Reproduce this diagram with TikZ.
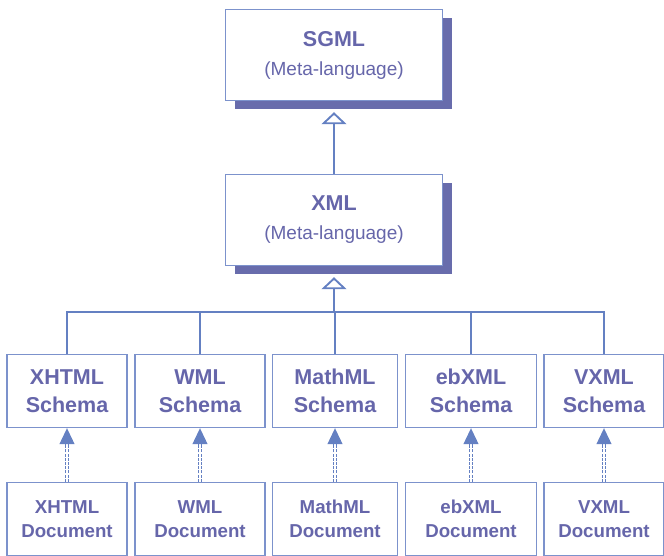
\documentclass[tikz,border=0pt]{standalone}
\usepackage{fontspec}
\setmainfont{Liberation Sans}
\usetikzlibrary{shapes.geometric, arrows.meta, shadows}
\definecolor{boxline}{RGB}{124,146,204}
\definecolor{textcol}{RGB}{102,102,170}
\definecolor{shadowcol}{RGB}{104,108,172}
\definecolor{arrowcol}{RGB}{100,128,194}
\tikzstyle{langbox} = [rectangle, minimum width=217pt, minimum height=91pt, align=center, draw=boxline, line width=1.4pt, fill=white, text=textcol, font=\fontsize{21.5}{26}\selectfont, drop shadow={shadow xshift=9pt, shadow yshift=-9pt, fill=shadowcol, opacity=1}]
\tikzstyle{schemabox} = [rectangle, minimum height=73pt, align=center, draw=boxline, line width=1.4pt, text=textcol, font=\bfseries\fontsize{21.5}{28}\selectfont]
\tikzstyle{docbox} = [rectangle, minimum height=73pt, align=center, draw=boxline, line width=1.4pt, text=textcol, font=\bfseries\fontsize{18.7}{24}\selectfont]
\tikzstyle{inherit} = [draw=arrowcol, line width=1.3pt, -{Triangle[open, width=25pt, length=12pt, line width=1.9pt]}, shorten >=11pt]
\tikzstyle{link} = [draw=arrowcol, line width=1.3pt]
\tikzstyle{realize} = [draw=arrowcol, line width=1.1pt, double=white, double distance=2pt, dash pattern=on 3pt off 1.2pt, -{Triangle[width=15pt, length=16pt]}]

\begin{document}
\begin{tikzpicture}[x=1pt, y=1pt, node distance=135pt]
    \useasboundingbox (0,0) rectangle (664,555);
    \node (sgml) [langbox] at (334,500) {\textbf{SGML}\\[3pt]{\fontsize{19}{26}\selectfont (Meta-language)}};
    \node (xml) [langbox, below of=sgml, yshift=-30pt] {\textbf{XML}\\[3pt]{\fontsize{19}{26}\selectfont (Meta-language)}};
    \coordinate [below of=xml, yshift=43pt] (bus);

    \node (mathml) [schemabox, minimum width=125pt, below of=xml, yshift=-36pt, xshift=1pt] {MathML\\Schema};
    \node (wml) [schemabox, minimum width=130pt, left of=mathml] {WML\\Schema};
    \node (xhtml) [schemabox, minimum width=120pt, left of=wml, xshift=2pt] {XHTML\\Schema};
    \node (ebxml) [schemabox, minimum width=131pt, right of=mathml, xshift=1pt] {ebXML\\Schema};
    \node (vxml) [schemabox, minimum width=120pt, right of=ebxml, xshift=-2pt] {VXML\\Schema};

    \node (xhtmldoc) [docbox, minimum width=120pt, below of=xhtml, yshift=7pt] {XHTML\\Document};
    \node (wmldoc) [docbox, minimum width=130pt, below of=wml, yshift=7pt] {WML\\Document};
    \node (mathmldoc) [docbox, minimum width=125pt, below of=mathml, yshift=7pt] {MathML\\Document};
    \node (ebxmldoc) [docbox, minimum width=131pt, below of=ebxml, yshift=7pt] {ebXML\\Document};
    \node (vxmldoc) [docbox, minimum width=120pt, below of=vxml, yshift=7pt] {VXML\\Document};

    \draw [inherit] (xml) -- (sgml);
    \draw [inherit] (bus) -- (xml);
    \draw [link] (xhtml) |- (bus);
    \draw [link] (wml) |- (bus);
    \draw [link] (mathml) |- (bus);
    \draw [link] (ebxml) |- (bus);
    \draw [link] (vxml) |- (bus);

    \draw [realize] (xhtmldoc) -- (xhtml);
    \draw [realize] (wmldoc) -- (wml);
    \draw [realize] (mathmldoc) -- (mathml);
    \draw [realize] (ebxmldoc) -- (ebxml);
    \draw [realize] (vxmldoc) -- (vxml);
\end{tikzpicture}
\end{document}
